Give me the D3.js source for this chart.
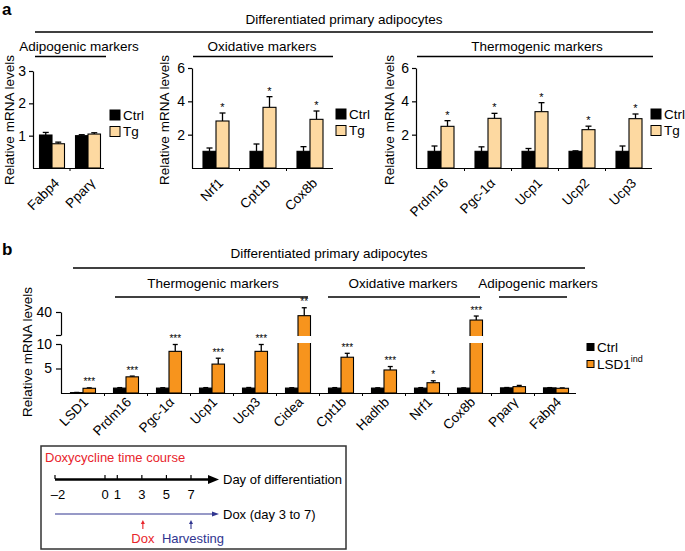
<!DOCTYPE html>
<html><head><meta charset="utf-8">
<script src="https://cdn.jsdelivr.net/npm/d3@7"></script>
<style>
body{margin:0;background:#fff;}
svg{display:block;font-family:"Liberation Sans",Arial,Helvetica,sans-serif;}
</style></head><body>
<svg id="c" width="685" height="551"></svg>
<script>
// ---------------- DATA ----------------
// Panel a – adipogenic
const aAdipoCats = ["Fabp4", "Pparγ"];
const aAdipoCtrl = [1.02, 1.0];
const aAdipoCtrlErr = [1.1, 1.03];
const aAdipoTg = [0.75, 1.05];
const aAdipoTgErr = [0.8, 1.09];
const aAdipoStars = ["", ""];
// Panel a – oxidative
const aOxCats = ["Nrf1", "Cpt1b", "Cox8b"];
const aOxCtrl = [1.0, 1.0, 1.0];
const aOxCtrlErr = [1.2, 1.44, 1.28];
const aOxTg = [2.82, 3.64, 2.92];
const aOxTgErr = [3.3, 4.28, 3.42];
const aOxStars = ["*", "*", "*"];
// Panel a – thermogenic
const aThCats = ["Prdm16", "Pgc-1α", "Ucp1", "Ucp2", "Ucp3"];
const aThCtrl = [1.0, 1.0, 1.0, 1.0, 1.0];
const aThCtrlErr = [1.32, 1.27, 1.17, 1.03, 1.32];
const aThTg = [2.5, 2.98, 3.38, 2.3, 2.96];
const aThTgErr = [2.84, 3.28, 3.92, 2.51, 3.24];
const aThStars = ["*", "*", "*", "*", "*"];
const aSeries = ["Ctrl", "Tg"];
const aTicks3 = [1, 2, 3];
const aTicks6 = [2, 4, 6];
// Panel b
const bCats = ["LSD1", "Prdm16", "Pgc-1α", "Ucp1", "Ucp3", "Cidea", "Cpt1b", "Hadhb", "Nrf1", "Cox8b", "Pparγ", "Fabp4"];
const bCtrl = [0.08, 1.0, 1.0, 1.0, 1.0, 1.0, 1.0, 1.0, 1.0, 1.0, 1.05, 1.05];
const bCtrlErr = [0.12, 1.1, 1.08, 1.1, 1.12, 1.08, 1.1, 1.06, 1.1, 1.05, 1.12, 1.1];
const bInd = [0.96, 3.3, 8.5, 5.9, 8.5, 36.8, 7.3, 4.7, 2.1, 33.0, 1.3, 0.96];
const bIndErr = [1.05, 3.45, 9.9, 7.1, 9.9, 43.7, 8.1, 5.4, 2.5, 36.5, 1.55, 1.04];
const bStars = ["***", "***", "***", "***", "***", "**", "***", "***", "*", "***", "", ""];
const bSeries = ["Ctrl", "LSD1"];
const bLowTicks = [5, 10];
const bUpTicks = [20, 40];
// Timeline
const tDays = [-2, 0, 1, 3, 5, 7];
const tDayLabels = ["\u20132", "0", "1", "3", "5", "7"];
const doxDay = 3, harvestDay = 7;

// ---------------- DRAW ----------------
const svg = d3.select("#c");
const TAN = "#FDD9A1", ORANGE = "#F7941D", RED = "#E8242B", BLUE = "#303590";

function txt(g, x, y, s, o = {}) {
  return g.append("text").attr("x", x).attr("y", y).text(s)
    .attr("font-size", o.size || 13.5).attr("fill", o.fill || "#000")
    .attr("text-anchor", o.anchor || "start")
    .attr("dominant-baseline", o.base || "central")
    .attr("font-weight", o.weight || "normal");
}
function hline(g, x1, x2, y, w = 1.3, c = "#000") {
  g.append("line").attr("x1", x1).attr("x2", x2).attr("y1", y).attr("y2", y)
    .attr("stroke", c).attr("stroke-width", w);
}
function styleAxis(sel, fs = 13) {
  sel.select(".domain").attr("stroke", "#000").attr("stroke-width", 1.2);
  sel.selectAll(".tick line").attr("stroke", "#000").attr("stroke-width", 1.2);
  sel.selectAll(".tick text").attr("font-size", fs).attr("fill", "#000")
    .attr("font-family", '"Liberation Sans",Arial,Helvetica,sans-serif');
}
function ylabel(g, x, y) {
  g.append("text").attr("transform", `translate(${x},${y}) rotate(-90)`)
    .attr("text-anchor", "middle").attr("dominant-baseline", "central")
    .attr("font-size", 13.5).text("Relative mRNA levels");
}
function bar(g, x, w, yv, base, fill) {
  g.append("rect").attr("x", x).attr("y", yv).attr("width", w)
    .attr("height", Math.max(0, base - yv)).attr("fill", fill)
    .attr("stroke", "#000").attr("stroke-width", 1.1);
}
function err(g, cx, y0, y1, cap = 3) {
  g.append("line").attr("x1", cx).attr("x2", cx).attr("y1", y0).attr("y2", y1)
    .attr("stroke", "#000").attr("stroke-width", 1.3);
  g.append("line").attr("x1", cx - cap).attr("x2", cx + cap).attr("y1", y1).attr("y2", y1)
    .attr("stroke", "#000").attr("stroke-width", 1.3);
}
const fmtInt = d3.format("d");

// ----- Panel a -----
const ga = svg.append("g");
txt(ga, 2, 9, "a", { size: 17, weight: "bold" });
txt(ga, 344, 19, "Differentiated primary adipocytes", { anchor: "middle" });
hline(ga, 35, 653, 32);

function panelA(cfg, cats, ctrl, ctrlErr, tg, tgErr, stars) {
  const g = svg.append("g");
  const y = d3.scaleLinear().domain([0, cfg.max]).range([168, cfg.top]);
  const x = d3.scaleBand().domain(cats).range([cfg.x0, cfg.x1]);
  txt(g, cfg.titleX, 46.5, cfg.title, { anchor: "middle" });
  hline(g, cfg.lx1, cfg.lx2, 56.5);
  ylabel(g, cfg.ylabX, 120);
  g.append("g").attr("transform", `translate(${cfg.ax},0)`)
    .call(d3.axisLeft(y).tickValues(cfg.ticks).tickFormat(fmtInt).tickSize(4).tickSizeOuter(0).tickPadding(3))
    .call(s => styleAxis(s, 14));
  hline(g, cfg.ax, cfg.axEnd, y(0) + 0.5, 1.2);
  cats.slice(1).forEach(c => {
    g.append("line").attr("x1", x(c)).attr("x2", x(c)).attr("y1", y(0)).attr("y2", y(0) + 3)
      .attr("stroke", "#000").attr("stroke-width", 1);
  });
  const bw = cfg.bw;
  cats.forEach((c, i) => {
    const cx = x(c) + x.bandwidth() / 2;
    err(g, cx - bw / 2, y(ctrl[i]), y(ctrlErr[i]));
    err(g, cx + bw / 2, y(tg[i]), y(tgErr[i]));
    bar(g, cx - bw, bw, y(ctrl[i]), y(0), "#000");
    bar(g, cx, bw, y(tg[i]), y(0), TAN);
    if (stars[i]) txt(g, cx + bw / 2, y(tgErr[i]) - 6, stars[i], { size: 11, anchor: "middle" });
    g.append("text").attr("transform", `translate(${cx + 8},${184}) rotate(-45)`)
      .attr("text-anchor", "end").attr("font-size", 13.5).text(c);
  });
  // legend
  [["#000", aSeries[0]], [TAN, aSeries[1]]].forEach(([f, s], k) => {
    const ly = cfg.legY + k * 16.5;
    g.append("rect").attr("x", cfg.legX).attr("y", ly - 5).attr("width", 10).attr("height", 10)
      .attr("fill", f).attr("stroke", "#000").attr("stroke-width", 1);
    txt(g, cfg.legX + 13, ly, s, { size: 13.5 });
  });
}
panelA({ max: 3, top: 71, x0: 34, x1: 106, ax: 33, axEnd: 104, bw: 12.5, ticks: aTicks3,
  title: "Adipogenic markers", titleX: 79, lx1: 35, lx2: 106, ylabX: 9, legX: 110, legY: 115 },
  aAdipoCats, aAdipoCtrl, aAdipoCtrlErr, aAdipoTg, aAdipoTgErr, aAdipoStars);
panelA({ max: 6, top: 68, x0: 192.5, x1: 333.5, ax: 192, axEnd: 333, bw: 13, ticks: aTicks6,
  title: "Oxidative markers", titleX: 262, lx1: 193, lx2: 333, ylabX: 164, legX: 336, legY: 114 },
  aOxCats, aOxCtrl, aOxCtrlErr, aOxTg, aOxTgErr, aOxStars);
panelA({ max: 6, top: 68, x0: 417.5, x1: 652.5, ax: 416, axEnd: 652, bw: 13, ticks: aTicks6,
  title: "Thermogenic markers", titleX: 537, lx1: 417, lx2: 653, ylabX: 389, legX: 651, legY: 114 },
  aThCats, aThCtrl, aThCtrlErr, aThTg, aThTgErr, aThStars);

// ----- Panel b -----
const gb = svg.append("g");
txt(gb, 2, 249, "b", { size: 17, weight: "bold" });
txt(gb, 329, 253, "Differentiated primary adipocytes", { anchor: "middle" });
hline(gb, 73, 585, 268);
txt(gb, 213, 283, "Thermogenic markers", { anchor: "middle" });
hline(gb, 115, 308, 297);
txt(gb, 403, 283, "Oxidative markers", { anchor: "middle" });
hline(gb, 328, 480, 297);
txt(gb, 538, 283, "Adipogenic markers", { anchor: "middle" });
hline(gb, 499, 567, 297);
ylabel(gb, 27, 352);

const yLow = d3.scaleLinear().domain([0, 10]).range([393, 344]);
const yUp = d3.scaleLinear().domain([20, 40]).range([335, 312]);
const yb = v => (v <= 10.5 ? yLow(v) : yUp(v));
const xb = d3.scaleBand().domain(bCats).range([61.5, 577.5]);

gb.append("g").attr("transform", "translate(61,0)")
  .call(d3.axisLeft(yLow).tickValues(bLowTicks).tickFormat(fmtInt).tickSize(5).tickSizeOuter(0).tickPadding(4))
  .call(s => styleAxis(s, 14));
gb.append("g").attr("transform", "translate(61,0)")
  .call(d3.axisLeft(yUp).tickValues(bUpTicks).tickFormat(d => d === 40 ? "40" : "").tickSize(5).tickSizeOuter(0).tickPadding(4))
  .call(s => styleAxis(s, 14));
hline(gb, 61, 576, 393.5, 1.2);
bCats.slice(1).forEach(c => {
  gb.append("line").attr("x1", xb(c)).attr("x2", xb(c)).attr("y1", 393).attr("y2", 396)
    .attr("stroke", "#000").attr("stroke-width", 1);
});
const bbw = 12.5;
bCats.forEach((c, i) => {
  const cx = xb(c) + xb.bandwidth() / 2;
  err(gb, cx - bbw / 2, yb(bCtrl[i]), yb(bCtrlErr[i]), 2.5);
  err(gb, cx + bbw / 2, yb(bInd[i]), yb(bIndErr[i]), 2.5);
  bar(gb, cx - bbw, bbw, yb(bCtrl[i]), 393, "#000");
  bar(gb, cx, bbw, yb(bInd[i]), 393, ORANGE);
  if (bInd[i] > 10.5) {
    gb.append("rect").attr("x", cx - 1).attr("y", yUp(20) + 1).attr("width", bbw + 2)
      .attr("height", yLow(10) - yUp(20) - 2).attr("fill", "#fff");
  }
  if (bStars[i]) txt(gb, cx + bbw / 2, yb(bIndErr[i]) - 6, bStars[i], { size: 10, anchor: "middle" });
  gb.append("text").attr("transform", `translate(${cx + 6},${403}) rotate(-45)`)
    .attr("text-anchor", "end").attr("font-size", 13.5).text(c);
});
// legend b
[["#000", bSeries[0]], [ORANGE, bSeries[1]]].forEach(([f, s], k) => {
  const ly = 347 + k * 17;
  gb.append("rect").attr("x", 587).attr("y", ly - 3.5).attr("width", 7).attr("height", 7)
    .attr("fill", f).attr("stroke", "#000").attr("stroke-width", 1);
  const t = txt(gb, 597, ly, s, { size: 13.5 });
  if (k === 1) t.append("tspan").attr("dy", -5).attr("font-size", 9).text("ind");
});

// ----- Doxycycline box -----
const gd = svg.append("g");
gd.append("rect").attr("x", 41).attr("y", 446).attr("width", 305).attr("height", 103)
  .attr("fill", "none").attr("stroke", "#333").attr("stroke-width", 1.5);
txt(gd, 45, 457, "Doxycycline time course", { fill: RED, size: 13 });
const tx = d3.scaleLinear().domain([-2, 0, 7]).range([55, 105, 191]);
gd.append("line").attr("x1", tx(-2)).attr("x2", 210).attr("y1", 479.5).attr("y2", 479.5)
  .attr("stroke", "#000").attr("stroke-width", 2.5);
gd.append("path").attr("d", "M208,475 L219,479.5 L208,484 Z").attr("fill", "#000");
txt(gd, 223, 479, "Day of differentiation", { size: 13 });
tDays.forEach((d, i) => {
  gd.append("line").attr("x1", tx(d)).attr("x2", tx(d)).attr("y1", 475).attr("y2", 479)
    .attr("stroke", "#000").attr("stroke-width", 1.2);
  txt(gd, tx(d) + (d < 0 ? 3 : 0), 494, tDayLabels[i], { size: 13, anchor: "middle" });
});
gd.append("line").attr("x1", tx(-2)).attr("x2", 214).attr("y1", 514).attr("y2", 514)
  .attr("stroke", BLUE).attr("stroke-width", 1.2);
gd.append("path").attr("d", "M212,511.5 L219,514 L212,516.5 Z").attr("fill", BLUE);
txt(gd, 223, 514, "Dox (day 3 to 7)", { size: 13 });
function upArrow(x, c) {
  gd.append("line").attr("x1", x).attr("x2", x).attr("y1", 529).attr("y2", 523)
    .attr("stroke", c).attr("stroke-width", 1.1);
  gd.append("path").attr("d", `M${x - 2},${524} L${x},${520} L${x + 2},${524} Z`).attr("fill", c);
}
upArrow(tx(doxDay) + 1, RED);
upArrow(tx(harvestDay), BLUE);
txt(gd, tx(doxDay) + 1, 538, "Dox", { size: 13, fill: RED, anchor: "middle" });
txt(gd, tx(harvestDay) + 2, 538, "Harvesting", { size: 13, fill: BLUE, anchor: "middle" });
</script>
</body></html>
